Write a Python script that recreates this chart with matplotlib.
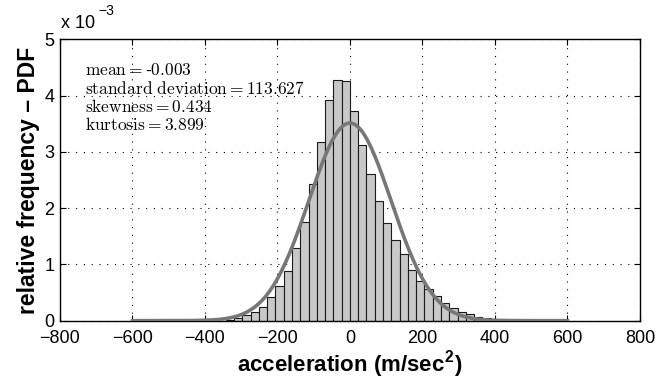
import numpy as np
import matplotlib
matplotlib.use("Agg")
import matplotlib.pyplot as plt
from matplotlib.ticker import FuncFormatter

plt.rcParams['font.family'] = ['Liberation Sans', 'DejaVu Sans']
plt.rcParams['mathtext.fontset'] = 'custom'
plt.rcParams['mathtext.rm'] = 'cmr10'
plt.rcParams['mathtext.it'] = 'cmmi10'
plt.rcParams['mathtext.bf'] = 'Liberation Sans:bold'
plt.rcParams['mathtext.sf'] = 'Liberation Sans'

# histogram (relative frequency, units of 1e-3), bins of ~22.85 m/sec^2
bin_left = -342.8
bin_width = 22.85
heights = [0.02, 0.05, 0.10, 0.16, 0.25, 0.415, 0.617, 0.89, 1.30, 1.75,
           2.43, 3.17, 3.92, 4.28, 4.25, 3.73, 3.12, 2.61, 2.13, 1.73,
           1.43, 1.18, 0.90, 0.71, 0.56, 0.43, 0.31, 0.22, 0.15, 0.11,
           0.07, 0.05]

# statistics shown on the chart
mean_val = -0.003
std_val = 113.627
skew_val = 0.434
kurt_val = 3.899

x_ticks = [-800, -600, -400, -200, 0, 200, 400, 600, 800]
y_ticks = [0, 1, 2, 3, 4, 5]

edges = bin_left + bin_width * np.arange(len(heights))
h = np.array(heights) * 1e-3

# fitted normal pdf from the stated mean / std
xs = np.linspace(-600, 600, 600)
pdf = np.exp(-0.5 * ((xs - mean_val) / std_val) ** 2) / (std_val * np.sqrt(2 * np.pi))

fig = plt.figure(figsize=(6.57, 3.81), dpi=100)
ax = fig.add_axes([0.0913, 0.1583, 0.8827, 0.7386])

ax.bar(edges, h, width=bin_width, align='edge', color='#c8c8c8',
       edgecolor='#1a1a1a', linewidth=0.8, zorder=2)
ax.plot(xs, pdf, color='#777777', linewidth=2.6, zorder=3)

ax.set_xlim(-800, 800)
ax.set_ylim(0, 5e-3)
ax.set_xticks(x_ticks)
ax.set_yticks([t * 1e-3 for t in y_ticks])
ax.yaxis.set_major_formatter(FuncFormatter(lambda v, p: f"{v * 1e3:g}"))
ax.xaxis.set_major_formatter(FuncFormatter(lambda v, p: f"{v:g}".replace('-', '\u2212')))
ax.tick_params(direction='in', top=True, right=True, length=4, width=0.8,
               labelsize=13)
ax.tick_params(axis='x', pad=7)
ax.tick_params(axis='y', pad=4)
ax.grid(True, linestyle=(0, (1, 6)), color='black', linewidth=0.8, zorder=1)
ax.set_axisbelow(True)
for s in ax.spines.values():
    s.set_linewidth(1.0)

ax.set_xlabel(r'acceleration (m/sec$^{\mathbf{2}}$)', fontsize=16, fontweight='bold', labelpad=2)
ax.set_ylabel('relative frequency \u2013 PDF', fontsize=16.5, fontweight='bold', labelpad=3)

# exponent label above the y axis
fig.text(0.093, 0.915, 'x 10', fontsize=13, ha='left', va='bottom')
fig.text(0.150, 0.952, '\u22123', fontsize=10, ha='left', va='bottom')

# stats text
lines = [
    r'$\mathrm{mean} = $-$0.003$',
    r'$\mathrm{standard\ deviation} = %.3f$' % std_val,
    r'$\mathrm{skewness} = %.3f$' % skew_val,
    r'$\mathrm{kurtosis} = %.3f$' % kurt_val,
]
ys = [4.455e-3, 4.126e-3, 3.797e-3, 3.477e-3]
for txt, yy in zip(lines, ys):
    ax.text(-731, yy, txt, fontsize=12.5, va='center', ha='left', zorder=4)

fig.savefig('out.png', dpi=100)
